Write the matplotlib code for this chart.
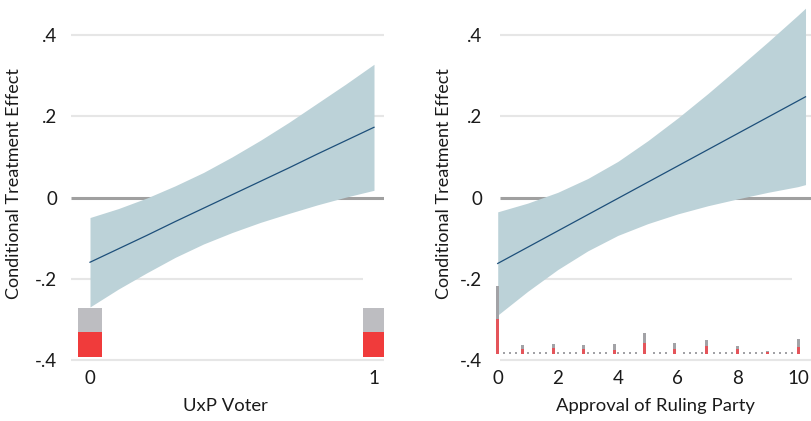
import numpy as np
import matplotlib
matplotlib.use("Agg")
import matplotlib.pyplot as plt

plt.rcParams['font.family'] = ['Lato', 'DejaVu Sans']

# ---------------- data ----------------
# Left panel: UxP Voter (0/1)
uxp_x = [0.0, 0.1, 0.2, 0.3, 0.4, 0.5, 0.6, 0.7, 0.8, 0.9, 1.0]
uxp_est = [-0.159, -0.126, -0.093, -0.059, -0.026, 0.007, 0.040, 0.073, 0.107, 0.140, 0.173]
uxp_hi = [-0.049, -0.027, -0.001, 0.029, 0.062, 0.100, 0.141, 0.185, 0.232, 0.279, 0.328]
uxp_lo = [-0.269, -0.225, -0.185, -0.147, -0.114, -0.086, -0.061, -0.039, -0.018, 0.001, 0.018]
uxp_hist_x = [0, 1]
uxp_hist_all = [0.120, 0.120]      # bar heights (in y-units above baseline)
uxp_hist_sub = [0.061, 0.061]
uxp_hist_base = -0.392

# Right panel: Approval of Ruling Party (0-10)
app_x = [0, 1, 2, 3, 4, 5, 6, 7, 8, 9, 10, 10.25]
app_est = [-0.162, -0.122, -0.082, -0.042, -0.002, 0.038, 0.078, 0.118, 0.158, 0.198, 0.238, 0.248]
app_hi = [-0.035, -0.0135, 0.013, 0.047, 0.089, 0.140, 0.196, 0.256, 0.319, 0.383, 0.449, 0.466]
app_lo = [-0.289, -0.2305, -0.177, -0.131, -0.093, -0.064, -0.040, -0.020, -0.003, 0.013, 0.027, 0.032]
app_hist_x = [0, 0.82, 1.85, 2.85, 3.88, 4.9, 5.9, 6.95, 7.97, 8.99, 10]
app_hist_all = [0.167, 0.021, 0.023, 0.021, 0.023, 0.050, 0.026, 0.033, 0.018, 0.006, 0.036]
app_hist_sub = [0.085, 0.010, 0.014, 0.011, 0.009, 0.027, 0.012, 0.019, 0.011, 0.003, 0.015]
app_hist_base = -0.3835

yticks = [-0.4, -0.2, 0, 0.2, 0.4]
ytick_labels = ['-.4', '-.2', '0', '.2', '.4']

# ---------------- style ----------------
BAND = '#bcd2d8'
LINE = '#1d4f7a'
GRID = '#e6e6e6'
ZERO = '#a0a0a0'
GRAY_BAR_L = '#bdbdc1'
RED_BAR_L = '#f03b3b'
GRAY_BAR_R = '#a2a2a6'
RED_BAR_R = '#e4545a'
TXT = '#1a1a1a'

W, H = 812, 421
fig = plt.figure(figsize=(W / 100, H / 100), dpi=100)

ylim = (-0.4044, 0.4861)
bottom = (H - 362) / H
height = 362 / H

axL = fig.add_axes([71 / W, bottom, 313 / W, height])
axR = fig.add_axes([496 / W, bottom, (W - 496) / W, height])

def style(ax, xlim, xticks, xlabels, xlabel, grid_x0, grid_x1, m2_x1, ylab_x, xlab_x):
    ax.set_xlim(*xlim)
    ax.set_ylim(*ylim)
    for s in ax.spines.values():
        s.set_visible(False)
    ax.set_facecolor('none')
    for y in [0.4, 0.2, -0.4]:
        ax.hlines(y, grid_x0, grid_x1, color=GRID, lw=1.5, zorder=0)
    ax.hlines(-0.2, grid_x0, m2_x1, color=GRID, lw=1.5, zorder=0)
    ax.hlines(0, grid_x0, grid_x1, color=ZERO, lw=2.2, zorder=0)
    ax.set_yticks(yticks)
    ax.set_yticklabels(ytick_labels)
    ax.set_xticks(xticks)
    ax.set_xticklabels(xlabels)
    ax.tick_params(axis='both', length=0, labelsize=13.5, colors=TXT)
    ax.tick_params(axis='x', pad=6)
    ax.tick_params(axis='y', pad=10)
    ax.set_ylabel('Conditional Treatment Effect', fontsize=13, color=TXT, va='center')
    ax.yaxis.set_label_coords(ylab_x, 0.4917)
    ax.set_xlabel(xlabel, fontsize=13.3, color=TXT, va='center')
    ax.xaxis.set_label_coords(xlab_x, -0.1215)

# Left panel
style(axL, (-0.0669, 1.0352), [0, 1], ['0', '1'], 'UxP Voter',
      -0.0669, 1.0352, 0.962, -0.182, 0.495)
axL.fill_between(uxp_x, uxp_lo, uxp_hi, color=BAND, lw=0, zorder=2)
axL.plot(uxp_x, uxp_est, color=LINE, lw=0.9, zorder=3)
axL.bar(uxp_hist_x, uxp_hist_all, bottom=uxp_hist_base, width=0.081, color=GRAY_BAR_L, zorder=2)
axL.bar(uxp_hist_x, uxp_hist_sub, bottom=uxp_hist_base, width=0.081, color=RED_BAR_L, zorder=2)

# Right panel
style(axR, (-0.057, 10.466), [0, 2, 4, 6, 8, 10], ['0', '2', '4', '6', '8', '10'],
      'Approval of Ruling Party', 0.08, 10.466, 9.8, -0.165, 0.505)
axR.fill_between(app_x, app_lo, app_hi, color=BAND, lw=0, zorder=2)
axR.plot(app_x, app_est, color=LINE, lw=0.9, zorder=3)
# empty histogram bins shown as small dots along the baseline
bins = np.arange(0, 10.001, 0.2)
empty = [b for b in bins if min(abs(b - h) for h in app_hist_x) > 0.1]
axR.bar(empty, [0.0042] * len(empty), bottom=app_hist_base - 0.001, width=0.077,
        color=GRAY_BAR_R, zorder=2)
axR.bar(app_hist_x, app_hist_all, bottom=app_hist_base, width=0.1, color=GRAY_BAR_R, zorder=2)
axR.bar(app_hist_x, app_hist_sub, bottom=app_hist_base, width=0.1, color=RED_BAR_R, zorder=2)

fig.savefig('out.png', dpi=100, facecolor='white')
